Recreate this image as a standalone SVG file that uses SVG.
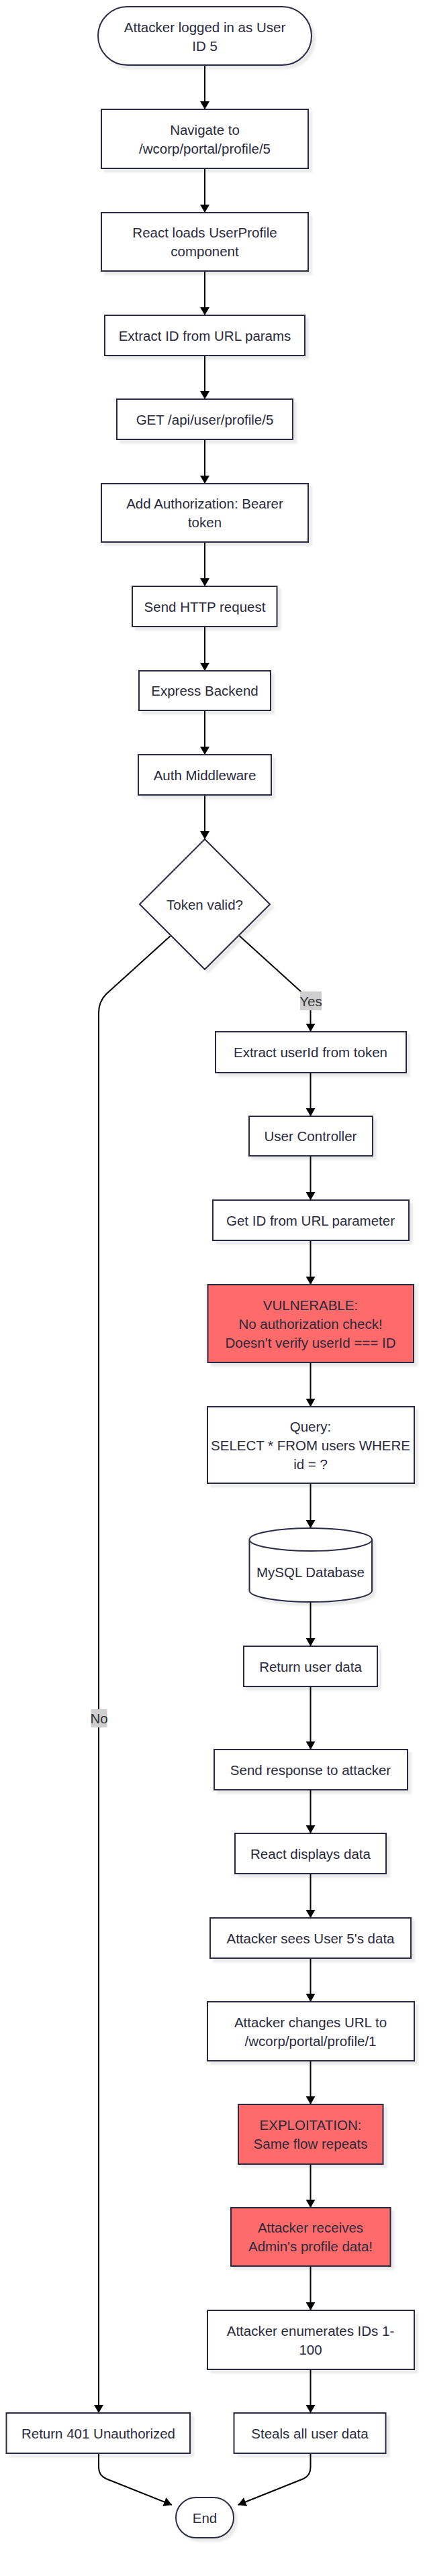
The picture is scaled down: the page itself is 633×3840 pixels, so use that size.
<svg xmlns="http://www.w3.org/2000/svg" width="633" height="3840" viewBox="0 0 633 3840">
<style>
  .n { fill: #ffffff; stroke: #2c2c45; stroke-width: 2; filter: url(#sh); }
  .r { fill: #ff6b6b; stroke: #2c2c45; stroke-width: 2; filter: url(#sh); }
  .t { font-family: "Liberation Sans", Arial, sans-serif; font-size: 20.5px; fill: #2a2a3c; text-anchor: middle; dominant-baseline: central; }
  .e { fill: none; stroke: #000000; stroke-width: 2; marker-end: url(#ah); }
  .lb { fill: #cfcfcf; }
</style>
<defs>
  <filter id="sh" x="-10%" y="-10%" width="130%" height="140%">
    <feDropShadow dx="5" dy="5" stdDeviation="1.5" flood-color="#000000" flood-opacity="0.08"/>
  </filter>
  <marker id="ah" viewBox="0 0 12 14" refX="12" refY="7" markerWidth="12" markerHeight="14" markerUnits="userSpaceOnUse" orient="auto">
    <path d="M0,0 L12,7 L0,14 z" fill="#000000"/>
  </marker>
</defs>
<rect width="633" height="3840" fill="#ffffff"/>
<g id="connectors">
  <path class="e" d="M305,97 L305,163"/>
  <path class="e" d="M305,251 L305,317"/>
  <path class="e" d="M305,404 L305,470"/>
  <path class="e" d="M305,530 L305,595"/>
  <path class="e" d="M305,655 L305,721"/>
  <path class="e" d="M305,808 L305,874"/>
  <path class="e" d="M305,934 L305,1000"/>
  <path class="e" d="M305,1059 L305,1125"/>
  <path class="e" d="M305,1185 L305,1251"/>
  <path class="e" d="M356.5,1395 L448,1478 Q462.5,1492 462.5,1506 L462.5,1538"/>
  <path class="e" d="M254,1395 L158,1482 Q147,1493 147,1510 L147,3597"/>
  <path class="e" d="M462.5,1599 L462.5,1664"/>
  <path class="e" d="M462.5,1723 L462.5,1789"/>
  <path class="e" d="M462.5,1849 L462.5,1915"/>
  <path class="e" d="M462.5,2031 L462.5,2097"/>
  <path class="e" d="M462.5,2211 L462.5,2278"/>
  <path class="e" d="M462.5,2388 L462.5,2454"/>
  <path class="e" d="M462.5,2514 L462.5,2608"/>
  <path class="e" d="M462.5,2668 L462.5,2733"/>
  <path class="e" d="M462.5,2793 L462.5,2859"/>
  <path class="e" d="M462.5,2919 L462.5,2984"/>
  <path class="e" d="M462.5,3072 L462.5,3137"/>
  <path class="e" d="M462.5,3226 L462.5,3291"/>
  <path class="e" d="M462.5,3378 L462.5,3444"/>
  <path class="e" d="M462.5,3532 L462.5,3597"/>
  <path class="e" d="M147,3657 L147,3678 Q147,3690 158,3695 L256,3734"/>
  <path class="e" d="M462.5,3657 L462.5,3678 Q462.5,3690 452,3695 L354.5,3734"/>
  <g id="label-yes">
    <rect class="lb" x="447" y="1478" width="32" height="28"/>
    <text class="t" x="463" y="1492" style="fill:#333333">Yes</text>
  </g>
  <g id="label-no">
    <rect class="lb" x="135.5" y="2548" width="24" height="27"/>
    <text class="t" x="147.5" y="2561.5" style="fill:#333333">No</text>
  </g>
</g>
<g id="start">
  <rect class="n" x="146" y="10" width="318" height="87" rx="43.5" ry="43.5"/>
  <text class="t" x="305" y="40">Attacker logged in as User</text>
  <text class="t" x="305" y="68">ID 5</text>
</g>
<g id="navigate">
  <rect class="n" x="151" y="163" width="308" height="88"/>
  <text class="t" x="305" y="193">Navigate to</text>
  <text class="t" x="305" y="221">/wcorp/portal/profile/5</text>
</g>
<g id="react-loads">
  <rect class="n" x="151" y="317" width="308" height="87"/>
  <text class="t" x="305" y="346.5">React loads UserProfile</text>
  <text class="t" x="305" y="374.5">component</text>
</g>
<g id="extract-id">
  <rect class="n" x="156" y="470" width="298" height="60"/>
  <text class="t" x="305" y="500">Extract ID from URL params</text>
</g>
<g id="get-api">
  <rect class="n" x="174" y="595" width="262" height="60"/>
  <text class="t" x="305" y="625">GET /api/user/profile/5</text>
</g>
<g id="add-auth">
  <rect class="n" x="151" y="721" width="308" height="87"/>
  <text class="t" x="305" y="750.5">Add Authorization: Bearer</text>
  <text class="t" x="305" y="778.5">token</text>
</g>
<g id="send-http">
  <rect class="n" x="197" y="874" width="215.5" height="60"/>
  <text class="t" x="305" y="904">Send HTTP request</text>
</g>
<g id="express">
  <rect class="n" x="207" y="1000" width="196" height="59"/>
  <text class="t" x="305" y="1029.5">Express Backend</text>
</g>
<g id="auth-mw">
  <rect class="n" x="206" y="1125" width="198" height="60"/>
  <text class="t" x="305" y="1155">Auth Middleware</text>
</g>
<g id="token-valid">
  <polygon class="n" points="305,1251 402,1348 305,1445 208,1348"/>
  <text class="t" x="305" y="1348">Token valid?</text>
</g>
<g id="extract-userid">
  <rect class="n" x="321" y="1538" width="284" height="61"/>
  <text class="t" x="462.5" y="1568.5">Extract userId from token</text>
</g>
<g id="user-controller">
  <rect class="n" x="371" y="1664" width="184" height="59"/>
  <text class="t" x="462.5" y="1693.5">User Controller</text>
</g>
<g id="get-id">
  <rect class="n" x="317" y="1789" width="292" height="60"/>
  <text class="t" x="462.5" y="1819">Get ID from URL parameter</text>
</g>
<g id="vulnerable">
  <rect class="r" x="309.5" y="1915" width="306.5" height="116"/>
  <text class="t" x="462.5" y="1945">VULNERABLE:</text>
  <text class="t" x="462.5" y="1973">No authorization check!</text>
  <text class="t" x="462.5" y="2001">Doesn't verify userId === ID</text>
</g>
<g id="query">
  <rect class="n" x="309" y="2097" width="308" height="114"/>
  <text class="t" x="462.5" y="2126">Query:</text>
  <text class="t" x="462.5" y="2154">SELECT * FROM users WHERE</text>
  <text class="t" x="462.5" y="2182">id = ?</text>
</g>
<g id="mysql">
  <path class="n" d="M371.5,2295 a91.25,17 0 0,0 182.5,0 a91.25,17 0 0,0 -182.5,0 l0,76 a91.25,17 0 0,0 182.5,0 l0,-76"/>
  <text class="t" x="462.5" y="2343">MySQL Database</text>
</g>
<g id="return-data">
  <rect class="n" x="363" y="2454" width="199" height="60"/>
  <text class="t" x="462.5" y="2484">Return user data</text>
</g>
<g id="send-response">
  <rect class="n" x="319" y="2608" width="288" height="60"/>
  <text class="t" x="462.5" y="2638">Send response to attacker</text>
</g>
<g id="react-displays">
  <rect class="n" x="350" y="2733" width="225" height="60"/>
  <text class="t" x="462.5" y="2763">React displays data</text>
</g>
<g id="attacker-sees">
  <rect class="n" x="313" y="2859" width="299" height="60"/>
  <text class="t" x="462.5" y="2889">Attacker sees User 5's data</text>
</g>
<g id="attacker-changes">
  <rect class="n" x="309" y="2984" width="308" height="88"/>
  <text class="t" x="462.5" y="3014">Attacker changes URL to</text>
  <text class="t" x="462.5" y="3042">/wcorp/portal/profile/1</text>
</g>
<g id="exploitation">
  <rect class="r" x="355" y="3137" width="215.5" height="89"/>
  <text class="t" x="462.5" y="3167.5">EXPLOITATION:</text>
  <text class="t" x="462.5" y="3195.5">Same flow repeats</text>
</g>
<g id="receives">
  <rect class="r" x="344" y="3291" width="237.5" height="87"/>
  <text class="t" x="462.5" y="3320.5">Attacker receives</text>
  <text class="t" x="462.5" y="3348.5">Admin's profile data!</text>
</g>
<g id="enumerates">
  <rect class="n" x="309" y="3444" width="308" height="88"/>
  <text class="t" x="462.5" y="3474">Attacker enumerates IDs 1-</text>
  <text class="t" x="462.5" y="3502">100</text>
</g>
<g id="return-401">
  <rect class="n" x="9.5" y="3597" width="273.5" height="60"/>
  <text class="t" x="146.5" y="3627">Return 401 Unauthorized</text>
</g>
<g id="steals">
  <rect class="n" x="348.5" y="3597" width="226" height="60"/>
  <text class="t" x="461.5" y="3627">Steals all user data</text>
</g>
<g id="end">
  <rect class="n" x="262" y="3723" width="86" height="60" rx="30" ry="30"/>
  <text class="t" x="305" y="3753">End</text>
</g>
</svg>
